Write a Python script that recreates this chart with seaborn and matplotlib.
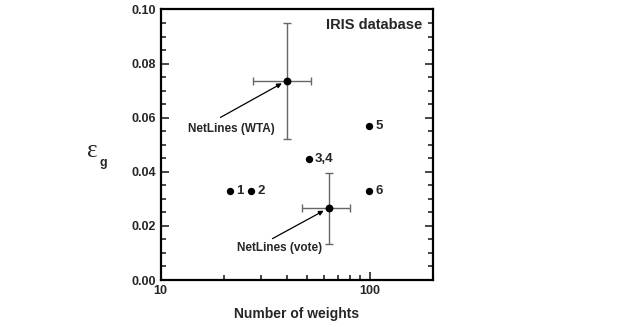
import numpy as np
import pandas as pd
import matplotlib
matplotlib.use('Agg')
import matplotlib.pyplot as plt
import seaborn as sns
from matplotlib.ticker import MultipleLocator, LogLocator, NullFormatter, FixedLocator, FixedFormatter

sns.set_style('ticks')
plt.rcParams['font.family'] = ['Liberation Sans', 'DejaVu Sans']
plt.rcParams['font.weight'] = 'bold'

# points sans barres d'erreur
labels = ['1', '2', '3,4', '5', '6']
weights = [21.5, 27, 51, 99, 99]
eps_g = [0.033, 0.033, 0.0448, 0.0569, 0.033]

# NetLines (WTA / vote) avec barres d'erreur
net_names = ['NetLines (WTA)', 'NetLines (vote)']
net_w = [40, 63.4]
net_w_lo = [27.7, 47.5]
net_w_hi = [52, 80]
net_eps = [0.0737, 0.0266]
net_eps_lo = [0.052, 0.0133]
net_eps_hi = [0.0951, 0.0397]

df = pd.DataFrame({'w': weights, 'eps': eps_g, 'lab': labels})
df_net = pd.DataFrame({'w': net_w, 'eps': net_eps, 'name': net_names})

fig = plt.figure(figsize=(6.42, 3.27), dpi=100)
ax = fig.add_axes([0.2503, 0.1437, 0.4242, 0.8273])

# barres d'erreur
xerr = [np.array(net_w) - np.array(net_w_lo), np.array(net_w_hi) - np.array(net_w)]
yerr = [np.array(net_eps) - np.array(net_eps_lo), np.array(net_eps_hi) - np.array(net_eps)]
ax.errorbar(net_w, net_eps, xerr=xerr, yerr=yerr, fmt='none', ecolor='#666666',
            elinewidth=1.0, capsize=3, capthick=1.0, zorder=2)

sns.scatterplot(data=df, x='w', y='eps', color='black', s=28, edgecolor='black',
                linewidth=0, ax=ax, zorder=3, legend=False)
sns.scatterplot(data=df_net, x='w', y='eps', color='black', s=32, edgecolor='black',
                linewidth=0, ax=ax, zorder=3, legend=False)

for _, r in df.iterrows():
    ax.annotate(r['lab'], (r['w'], r['eps']), xytext=(4.5, 0), textcoords='offset points',
                ha='left', va='center', fontsize=9.5, fontweight='bold')

# flèches
ax.annotate('', xy=(net_w[0], net_eps[0]), xytext=(19.3, 0.0601),
            arrowprops=dict(arrowstyle='-|>', color='black', lw=0.9,
                            mutation_scale=7, shrinkA=0, shrinkB=4))
ax.text(21.7, 0.0557, net_names[0], ha='center', va='center', fontsize=8.5, fontweight='bold')
ax.annotate('', xy=(net_w[1], net_eps[1]), xytext=(34.2, 0.0153),
            arrowprops=dict(arrowstyle='-|>', color='black', lw=0.9,
                            mutation_scale=7, shrinkA=0, shrinkB=4))
ax.text(37.1, 0.0117, net_names[1], ha='center', va='center', fontsize=8.5, fontweight='bold')

ax.text(0.962, 0.943, 'IRIS database', transform=ax.transAxes, ha='right', va='center',
        fontsize=10.5, fontweight='bold')

ax.set_xscale('log')
ax.set_xlim(10, 200)
ax.set_ylim(0, 0.10)
ax.xaxis.set_major_locator(FixedLocator([10, 100]))
ax.xaxis.set_major_formatter(FixedFormatter(['10', '100']))
ax.xaxis.set_minor_locator(LogLocator(base=10, subs=np.arange(2, 10)))
ax.xaxis.set_minor_formatter(NullFormatter())
ax.yaxis.set_major_locator(MultipleLocator(0.02))
ax.yaxis.set_minor_locator(MultipleLocator(0.005))
ax.yaxis.set_major_formatter(plt.FormatStrFormatter('%.2f'))

ax.tick_params(which='both', direction='in', right=True, top=False, labelsize=9, width=1.2)
ax.tick_params(which='major', length=5.5)
ax.tick_params(which='minor', length=3.5)
for lab in ax.get_xticklabels() + ax.get_yticklabels():
    lab.set_fontweight('bold')
for sp in ax.spines.values():
    sp.set_linewidth(1.6)
    sp.set_color('black')

ax.set_xlabel('Number of weights', fontsize=10, fontweight='bold', labelpad=7)
ax.set_ylabel('')
ax.text(-0.252, 0.477, '\u03b5', transform=ax.transAxes, ha='center', va='center',
        fontsize=18, family=['Liberation Serif'], fontweight='normal')
ax.text(-0.212, 0.433, 'g', transform=ax.transAxes, ha='center', va='center',
        fontsize=9, fontweight='bold')

fig.savefig('out.png', dpi=100)
